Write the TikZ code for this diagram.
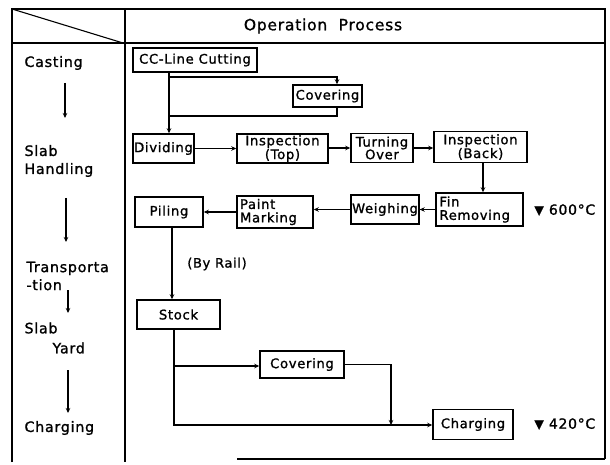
\documentclass[tikz,border=0pt]{standalone}
\usepackage{fontspec}
\setmainfont[LetterSpace=5,FakeBold=1.2]{DejaVu Sans}
\usetikzlibrary{arrows.meta}
\tikzset{
  box/.style={draw, line width=1.5pt, inner sep=1pt, font=\fontsize{13.2}{12.6}\selectfont, align=center},
  lbox/.style={box, align=left, font=\fontsize{13.2}{13.4}\selectfont},
  lab/.style={font=\fontsize{14.3}{18}\selectfont, anchor=west, align=left},
  conn/.style={line width=1.1pt},
  arr/.style={conn, -{Stealth[length=5pt,width=4.5pt]}},
  frame/.style={line width=1.8pt},
  temp/.style={font=\fontsize{14}{15}\selectfont, anchor=west}
}
\begin{document}
\begin{tikzpicture}[x=1pt,y=-1pt]
\useasboundingbox (0,0) rectangle (610,465);
% frame
\draw[frame] (12,462) -- (12,9) -- (605,9) -- (605,459);
\draw[frame] (237,459) -- (605,459);
\draw[frame] (12,43) -- (605,43);
\draw[frame] (125,9) -- (125,462);
\draw[conn] (12,9) -- (123,43);
\node[font=\fontsize{15.5}{15}\selectfont] (hdr) at (323,26) {Operation\ \ Process};
% left column
\node[lab] (lc1) at (21,63) {Casting};
\node[lab] (lc2) at (21,161) {Slab\\Handling};
\node[lab] (lc3) at (23,276) {Transporta\\-tion};
\node[lab] (lc4) at (21,328) {Slab};
\node[lab] (lc5) at (49,348) {Yard};
\node[lab] (lc6) at (21,428) {Charging};
\coordinate (a1s) at (65,83); \coordinate (a1e) at (65,118);
\coordinate (a2s) at (66,198); \coordinate (a2e) at (66,242);
\coordinate (a3s) at (68,290); \coordinate (a3e) at (68,313);
\coordinate (a4s) at (68,370); \coordinate (a4e) at (68,413);
\foreach \s/\e in {a1s/a1e,a2s/a2e,a3s/a3e,a4s/a4e} \draw[arr] (\s) -- (\e);
% boxes
\node[box, minimum width=124pt, minimum height=24pt] (cc) at (195,60) {CC-Line Cutting};
\node[box, minimum width=69pt, minimum height=22pt] (cov1) at (327.5,96) {Covering};
\node[box, minimum width=61pt, minimum height=29pt] (div) at (163.5,148.5) {Dividing};
\node[box, minimum width=91pt, minimum height=29pt] (insT) at (282.5,148.5) {Inspection\\(Top)};
\node[box, minimum width=62pt, minimum height=29pt] (turn) at (382,148) {Turning\\Over};
\node[box, minimum width=93pt, minimum height=31pt] (insB) at (480.5,147) {Inspection\\(Back)};
\node[lbox, minimum width=87pt, minimum height=33pt, text width=80pt] (fin) at (479.5,209.5) {Fin\\Removing};
\node[box, minimum width=66pt, minimum height=29pt] (weigh) at (385,209.5) {Weighing};
\node[lbox, minimum width=76pt, minimum height=32pt, text width=70pt] (paint) at (275,212) {Paint\\Marking};
\node[box, minimum width=68pt, minimum height=30pt] (pil) at (169,212) {Piling};
\node[box, minimum width=83pt, minimum height=29pt] (stock) at (178.5,314.5) {Stock};
\node[box, minimum width=84pt, minimum height=27pt] (cov2) at (302,364.5) {Covering};
\node[box, minimum width=80pt, minimum height=30pt] (charg) at (473,424.5) {Charging};
\node[font=\fontsize{13}{14}\selectfont] (rail) at (217,264) {(By Rail)};
\node[temp] (t600) at (531,210) {\raisebox{0.5pt}{\fontsize{12}{12}\selectfont▼}\ 600°C};
\node[temp] (t420) at (531,424) {\raisebox{0.5pt}{\fontsize{12}{12}\selectfont▼}\ 420°C};
% connectors
\coordinate (j1) at (169,77);
\coordinate (j2) at (337,77);
\coordinate (j3) at (337,116);
\coordinate (j4) at (169,116);
\draw[arr] (cc.south -| j1) -- (div.north -| j1);
\draw[arr] (j1) -- (j2) -- (cov1.north -| j2);
\draw[conn] (cov1.south -| j2) -- (j3) -- (j4);
\draw[arr] (div) -- (insT);
\draw[arr] (insT.east |- turn) -- (turn);
\draw[arr] (turn) -- (insB.west |- turn);
\coordinate (k1) at (483,0);
\draw[arr] (insB.south -| k1) -- (fin.north -| k1);
\draw[arr] (fin.west |- weigh) -- (weigh.east);
\draw[arr] (weigh.west) -- (paint.east |- weigh);
\draw[arr] (paint.west |- pil) -- (pil.east);
\coordinate (k2) at (172,0);
\draw[arr] (pil.south -| k2) -- (stock.north -| k2);
\coordinate (m1) at (174,366);
\coordinate (m2) at (174,425);
\coordinate (m3) at (391,364.5);
\coordinate (m4) at (391,425);
\draw[arr] (stock.south -| m1) -- (m1) -- (cov2.west |- m1);
\draw[arr] (m1) -- (m2) -- (charg.west |- m2);
\draw[arr] (cov2.east) -- (m3) -- (m4);
\end{tikzpicture}
\end{document}
